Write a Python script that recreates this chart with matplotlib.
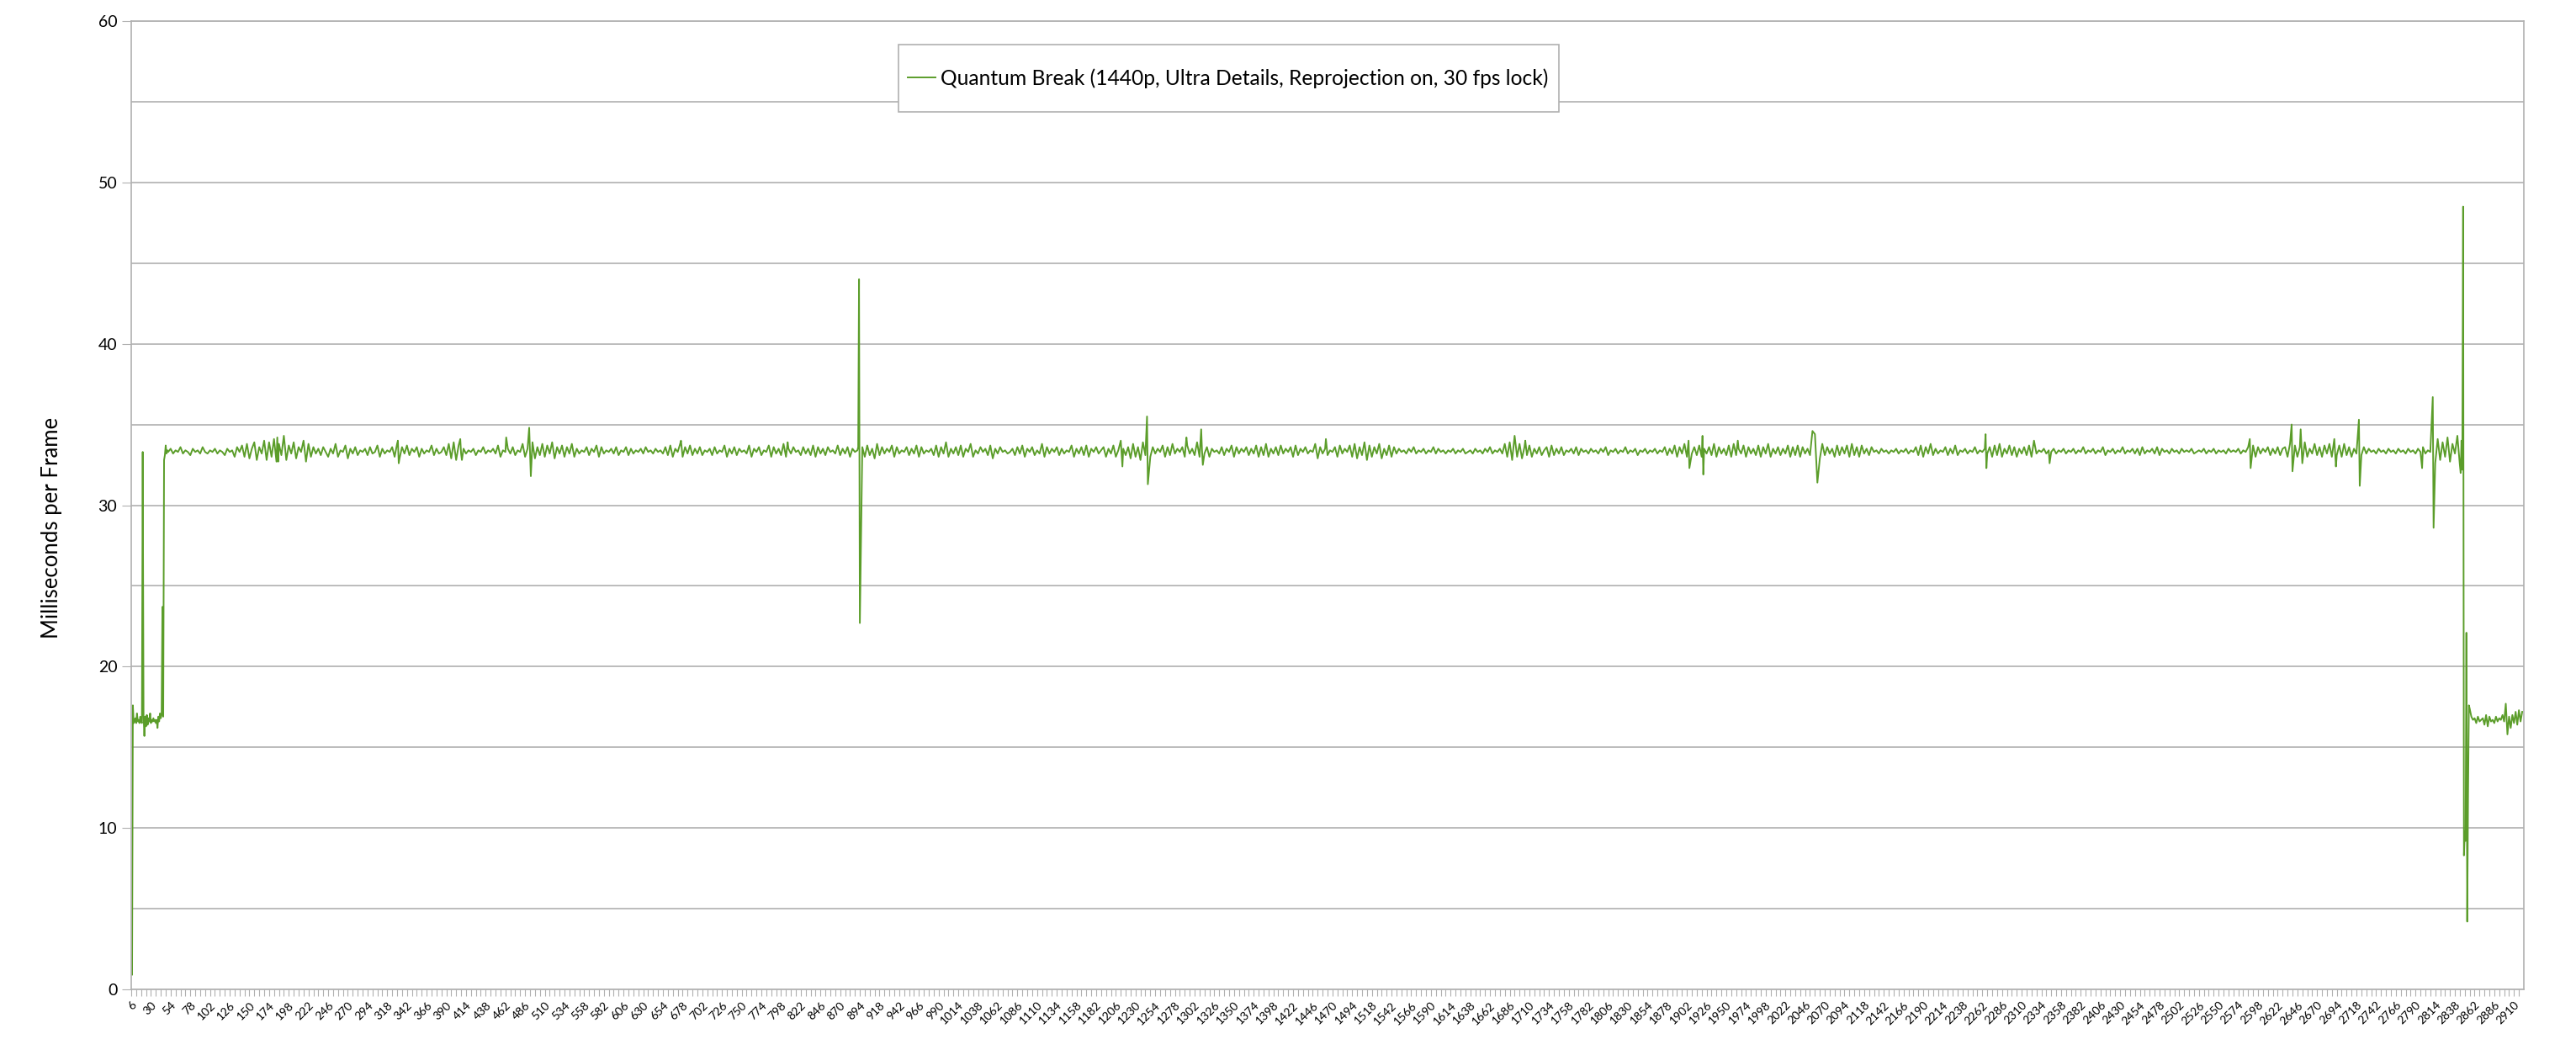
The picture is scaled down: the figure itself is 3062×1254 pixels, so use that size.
import numpy as np
import matplotlib
matplotlib.use('Agg')
import matplotlib.pyplot as plt
from matplotlib.patches import Rectangle

# frame times (ms)
start_frames = list(range(6, 51))
start_ms = [2.1, 0.9, 17.6, 16.5, 16.6, 16.8, 16.5, 17.1, 16.6, 16.7, 16.5, 16.9, 16.6, 16.5,
            33.3, 17.0, 15.7, 16.9, 16.3, 17.0, 16.4, 16.8, 16.6, 17.1, 16.5, 16.7, 16.6, 16.8,
            16.6, 16.7, 16.5, 16.7, 16.2, 16.9, 16.6, 17.1, 16.8, 17.0, 23.7, 16.9, 32.8, 33.1,
            33.7, 33.2, 33.4]

# 30 fps part, one value every 3 frames from frame 51
base_first = 51
base_step = 3
base_ms = [
    33.3, 33.5, 33.2, 33.4, 33.3, 33.6, 33.2, 33.4, 33.3, 33.1, 33.5, 33.3, 33.4, 33.2, 33.6, 33.3, 33.2, 33.4, 33.3, 33.5,
    33.2, 33.4, 33.3, 33.1, 33.5, 33.3, 33.4, 33.0, 33.6, 33.3, 33.7, 33.0, 33.8, 32.9, 33.5, 33.9, 32.8, 33.6, 33.2, 34.0,
    32.8, 33.9, 33.0, 34.1, 32.7, 33.8, 33.1, 34.3, 32.8, 33.7, 33.2, 33.9, 32.9, 33.6, 33.3, 34.0, 32.7, 33.8, 33.0, 33.6,
    33.2, 33.5, 33.1, 33.6, 33.3, 33.0, 33.5, 33.2, 33.8, 33.0, 33.4, 33.3, 33.7, 32.9, 33.5, 33.2, 33.6, 33.1, 33.4, 33.3,
    33.5, 33.1, 33.6, 33.2, 33.3, 33.7, 33.0, 33.5, 33.2, 33.4, 33.3, 33.6, 33.0, 33.8, 32.9, 33.6, 33.2, 33.7, 33.1, 33.5,
    33.3, 33.6, 33.0, 33.5, 33.2, 33.4, 33.3, 33.7, 33.1, 33.5, 33.2, 33.3, 33.6, 33.1, 33.8, 32.9, 33.9, 32.8, 33.7, 33.2,
    33.5, 33.2, 33.4, 33.3, 33.5, 33.1, 33.4, 33.3, 33.6, 33.2, 33.4, 33.3, 33.5, 33.2, 33.7, 33.0, 33.4, 33.3, 33.5, 33.2,
    33.6, 33.1, 33.4, 33.3, 33.8, 33.0, 33.5, 33.3, 33.9, 32.9, 33.6, 33.1, 33.8, 33.0, 33.7, 33.2, 33.9, 32.9, 33.6, 33.2,
    33.7, 33.0, 33.6, 33.2, 33.8, 33.0, 33.5, 33.2, 33.4, 33.3, 33.6, 33.1, 33.5, 33.3, 33.7, 33.0, 33.6, 33.2, 33.4, 33.3,
    33.5, 33.2, 33.6, 33.1, 33.4, 33.3, 33.6, 33.1, 33.5, 33.2, 33.4, 33.3, 33.5, 33.2, 33.6, 33.3, 33.4, 33.2, 33.5, 33.3,
    33.4, 33.2, 33.6, 33.1, 33.7, 33.0, 33.5, 33.3, 33.8, 33.0, 33.6, 33.2, 33.7, 33.1, 33.5, 33.2, 33.6, 33.1, 33.4, 33.3,
    33.5, 33.1, 33.6, 33.2, 33.4, 33.3, 33.7, 33.0, 33.5, 33.2, 33.6, 33.1, 33.5, 33.3, 33.4, 33.2, 33.7, 33.0, 33.5, 33.3,
    33.6, 33.1, 33.4, 33.3, 33.7, 33.0, 33.6, 33.2, 33.5, 33.1, 33.8, 33.0, 33.5, 33.2, 33.6, 33.3, 33.4, 33.1, 33.6, 33.2,
    33.5, 33.1, 33.7, 33.0, 33.6, 33.2, 33.5, 33.1, 33.6, 33.3, 33.4, 33.2, 33.7, 33.1, 33.5, 33.2, 33.6, 33.0, 33.5, 33.3,
    33.4, 33.2, 33.6, 33.0, 33.7, 33.1, 33.5, 32.9, 33.8, 33.1, 33.6, 33.2, 33.5, 33.3, 33.7, 33.0, 33.6, 33.2, 33.4, 33.3,
    33.6, 33.1, 33.5, 33.2, 33.7, 33.0, 33.6, 33.2, 33.4, 33.3, 33.5, 33.1, 33.7, 33.0, 33.6, 33.2, 33.9, 33.0, 33.5, 33.2,
    33.6, 33.1, 33.7, 33.0, 33.5, 33.3, 33.8, 33.0, 33.4, 33.2, 33.6, 33.3, 33.5, 33.1, 33.7, 32.9, 33.5, 33.2, 33.6, 33.3,
    33.4, 33.2, 33.3, 33.5, 33.1, 33.6, 33.2, 33.7, 33.0, 33.5, 33.3, 33.6, 33.1, 33.4, 33.2, 33.8, 33.0, 33.6, 33.2, 33.5,
    33.3, 33.6, 33.1, 33.5, 33.2, 33.4, 33.3, 33.7, 33.0, 33.5, 33.2, 33.6, 33.1, 33.7, 33.0, 33.5, 33.3, 33.6, 33.2, 33.4,
    33.6, 33.0, 33.5, 33.2, 33.7, 33.0, 33.4, 33.3, 33.5, 33.1, 33.6, 32.9, 33.8, 33.0, 33.6, 32.8, 33.9, 33.1, 33.7, 33.0,
    33.6, 33.2, 33.5, 33.3, 33.7, 33.0, 33.6, 33.1, 33.8, 33.2, 33.5, 33.3, 33.6, 33.0, 33.7, 33.2, 33.5, 33.1, 33.9, 33.0,
    33.4, 33.2, 33.6, 33.0, 33.5, 33.3, 33.4, 33.2, 33.6, 33.1, 33.5, 33.3, 33.7, 33.0, 33.6, 33.2, 33.5, 33.3, 33.6, 33.1,
    33.5, 33.2, 33.7, 33.0, 33.6, 33.1, 33.8, 33.0, 33.5, 33.2, 33.6, 33.1, 33.7, 33.2, 33.5, 33.3, 33.6, 33.0, 33.7, 33.1,
    33.5, 33.3, 33.6, 33.2, 33.4, 33.3, 33.8, 32.9, 33.6, 33.2, 33.5, 33.1, 33.4, 33.3, 33.6, 33.0, 33.7, 33.2, 33.5, 33.3,
    33.7, 33.0, 33.8, 32.9, 33.6, 33.1, 33.9, 32.8, 33.7, 33.0, 33.6, 33.2, 33.8, 32.9, 33.5, 33.1, 33.7, 33.0, 33.6, 33.2,
    33.5, 33.3, 33.4, 33.2, 33.5, 33.3, 33.6, 33.2, 33.4, 33.3, 33.5, 33.2, 33.4, 33.3, 33.6, 33.2, 33.5, 33.3, 33.4, 33.2,
    33.4, 33.3, 33.5, 33.2, 33.4, 33.3, 33.5, 33.2, 33.3, 33.4, 33.2, 33.5, 33.3, 33.4, 33.2, 33.5, 33.3, 33.6, 33.2, 33.4,
    33.3, 33.5, 33.2, 33.8, 33.0, 33.9, 32.8, 33.7, 33.0, 33.8, 32.9, 33.6, 33.1, 33.7, 33.0, 33.5, 33.2, 33.6, 33.1, 33.4,
    33.6, 33.0, 33.7, 33.1, 33.5, 33.2, 33.6, 33.1, 33.4, 33.3, 33.5, 33.2, 33.6, 33.1, 33.5, 33.3, 33.4, 33.2, 33.5, 33.3,
    33.4, 33.2, 33.5, 33.3, 33.6, 33.1, 33.4, 33.3, 33.5, 33.2, 33.4, 33.3, 33.6, 33.2, 33.4, 33.3, 33.5, 33.1, 33.4, 33.3,
    33.5, 33.2, 33.4, 33.3, 33.5, 33.2, 33.4, 33.3, 33.6, 33.1, 33.5, 33.2, 33.7, 33.0, 33.6, 33.2, 33.8, 33.0, 33.6, 33.2,
    33.6, 33.1, 33.7, 33.0, 33.5, 33.2, 33.6, 33.1, 33.8, 33.0, 33.6, 33.2, 33.5, 33.1, 33.7, 33.0, 33.8, 33.1, 33.5, 33.2,
    33.7, 33.0, 33.6, 33.2, 33.5, 33.1, 33.7, 33.0, 33.6, 33.2, 33.8, 33.0, 33.5, 33.2, 33.6, 33.1, 33.5, 33.2, 33.7, 33.0,
    33.6, 33.1, 33.7, 33.0, 33.6, 33.2, 33.5, 33.1, 33.7, 33.0, 33.6, 32.9, 33.8, 33.1, 33.6, 33.2, 33.5, 33.0, 33.7, 33.1,
    33.6, 33.2, 33.7, 33.0, 33.8, 33.1, 33.6, 33.0, 33.7, 33.2, 33.5, 33.1, 33.6, 33.3, 33.4, 33.2, 33.5, 33.3, 33.4, 33.2,
    33.4, 33.3, 33.5, 33.2, 33.4, 33.3, 33.5, 33.2, 33.4, 33.3, 33.6, 33.1, 33.7, 33.0, 33.6, 33.2, 33.8, 33.1, 33.5, 33.2,
    33.4, 33.3, 33.6, 33.1, 33.5, 33.2, 33.7, 33.1, 33.4, 33.3, 33.5, 33.2, 33.4, 33.3, 33.6, 33.2, 33.4, 33.3, 33.5, 33.2,
    33.6, 33.0, 33.7, 33.1, 33.8, 33.0, 33.5, 33.2, 33.7, 33.1, 33.6, 33.0, 33.5, 33.2, 33.6, 33.1, 33.7, 33.0, 33.6, 33.2,
    33.4, 33.3, 33.5, 33.2, 33.4, 33.3, 33.5, 33.2, 33.4, 33.3, 33.5, 33.2, 33.4, 33.3, 33.5, 33.2, 33.4, 33.3, 33.6, 33.2,
    33.4, 33.3, 33.5, 33.2, 33.4, 33.3, 33.6, 33.1, 33.4, 33.3, 33.5, 33.2, 33.4, 33.3, 33.6, 33.2, 33.4, 33.3, 33.5, 33.2,
    33.5, 33.1, 33.6, 33.2, 33.4, 33.3, 33.5, 33.2, 33.6, 33.1, 33.5, 33.3, 33.4, 33.2, 33.5, 33.3, 33.4, 33.2, 33.5, 33.3,
    33.4, 33.3, 33.5, 33.2, 33.3, 33.4, 33.3, 33.5, 33.2, 33.4, 33.3, 33.5, 33.2, 33.4, 33.3, 33.4, 33.2, 33.5, 33.3, 33.4,
    33.3, 33.5, 33.2, 33.4, 33.3, 33.6, 33.1, 33.7, 33.0, 33.6, 33.2, 33.5, 33.3, 33.6, 33.1, 33.5, 33.2, 33.6, 33.1, 33.5,
    33.6, 33.0, 33.8, 33.1, 33.7, 33.0, 33.6, 33.2, 33.9, 33.0, 33.5, 33.2, 33.8, 33.1, 33.6, 33.0, 33.7, 33.2, 33.8, 33.0,
    33.6, 33.1, 33.7, 33.0, 33.8, 33.1, 33.6, 33.0, 33.5, 33.2, 33.7, 33.1, 33.6, 33.2, 33.5, 33.3, 33.4, 33.2, 33.5, 33.3,
    33.4, 33.2, 33.5, 33.3, 33.4, 33.2, 33.5, 33.3, 33.4, 33.2, 33.5, 33.3, 33.4, 33.2, 33.5, 33.3, 33.6, 33.2, 33.4, 33.3,
    33.4, 32.6, 34.1, 32.8, 33.9, 33.0, 34.2, 32.7, 33.8, 33.2, 34.3, 32.5,
]

# single-frame spikes
spike_frames = [184, 185, 331, 332, 407, 409, 463, 491, 493, 676, 806, 892, 893, 894,
                1212, 1214, 1244, 1245, 1292, 1310, 1312, 1462, 1692, 1705,
                1904, 1905, 1921, 1922, 1964, 2055, 2058, 2061, 2266, 2267, 2325, 2344,
                2588, 2589, 2639, 2640, 2650, 2652, 2691, 2693, 2721, 2722, 2798,
                2811, 2812, 2845, 2846, 2847, 2848, 2849, 2850, 2851, 2852, 2853, 2854, 2855]
spike_ms = [34.2, 32.7, 34.0, 32.6, 34.1, 32.8, 34.2, 34.8, 31.8, 34.0, 33.9, 33.6, 44.0, 22.7,
            34.0, 32.4, 35.5, 31.3, 34.2, 34.7, 32.5, 34.1, 34.3, 34.0,
            34.0, 32.3, 34.3, 31.9, 34.0, 34.6, 34.4, 31.4, 34.4, 32.3, 34.0, 32.6,
            34.1, 32.3, 35.0, 32.1, 34.7, 32.6, 34.1, 32.4, 35.3, 31.2, 32.3,
            36.7, 28.6, 32.0, 34.0, 32.2, 48.5, 8.3, 9.8, 9.2, 22.1, 4.2, 12.0, 17.6]

# 60 fps tail, one value every 2 frames from frame 2856
tail_first = 2856
tail_step = 2
tail_ms = [17.4, 16.9, 16.7, 16.8, 16.5, 16.9, 16.6, 16.7, 16.8, 16.4, 17.0, 16.3, 16.9, 16.6,
           16.7, 16.5, 16.9, 16.6, 16.8, 16.7, 17.0, 16.6, 17.7, 15.8, 16.9, 16.2, 17.0, 16.5,
           17.2, 16.4, 17.3, 16.6, 17.2]

label = 'Quantum Break (1440p, Ultra Details, Reprojection on, 30 fps lock)'

series = dict(zip(start_frames, start_ms))
series.update(zip(range(base_first, base_first + base_step * len(base_ms), base_step), base_ms))
series.update(zip(range(tail_first, tail_first + tail_step * len(tail_ms), tail_step), tail_ms))
series.update(zip(spike_frames, spike_ms))
frames = np.array(sorted(series))
ms = np.array([series[f] for f in frames])

W, H = 3062, 1254
fig = plt.figure(figsize=(W / 100, H / 100), dpi=100)
ax = fig.add_axes([156 / W, 1 - 1176 / H, (3000 - 156) / W, (1176 - 25) / H])

grey = '#b0b0b0'
ax.plot(frames, ms, color='#5b9d2a', lw=1.4, label=label)

ax.set_xlim(6, 2922)
ax.set_ylim(0, 60)
ax.set_yticks(range(0, 61, 10))
ax.set_yticks(range(5, 60, 10), minor=True)
ax.grid(True, which='both', axis='y', color=grey, lw=1.2)
ax.set_axisbelow(True)

xt = list(range(6, 2922, 6))
ax.set_xticks(xt)
ax.set_xticklabels([str(t) if (t - 6) % 24 == 0 else '' for t in xt],
                   rotation=45, ha='right', rotation_mode='anchor',
                   fontsize=10, family='Lato')
ax.tick_params(axis='x', length=6, color=grey, pad=3)
ax.tick_params(axis='y', which='major', length=8, color=grey, labelsize=14, pad=4)
ax.tick_params(axis='y', which='minor', length=0)
for lab in ax.get_yticklabels():
    lab.set_family('Lato')

for s in ax.spines.values():
    s.set_color(grey)
    s.set_linewidth(1.2)

fig.text(62 / W, 1 - 627 / H, 'Milliseconds per Frame', rotation=90,
         ha='center', va='center', fontsize=18.5, family='Lato')

# legend box drawn separately so it can be wider than it is tall
box = Rectangle((1068 / W, 1 - 133 / H), 785 / W, 80 / H, transform=fig.transFigure,
                facecolor='white', edgecolor=grey, lw=1.2, zorder=4, clip_on=False)
ax.add_patch(box)
leg = ax.legend(loc='center', bbox_to_anchor=(1460 / W, 1 - 93 / H),
                bbox_transform=fig.transFigure, frameon=False,
                borderpad=0.2, handlelength=1.35, handletextpad=0.25,
                prop={'family': 'Lato', 'size': 17.7})
leg.set_zorder(5)

fig.savefig('out.png', dpi=100, facecolor='white')
